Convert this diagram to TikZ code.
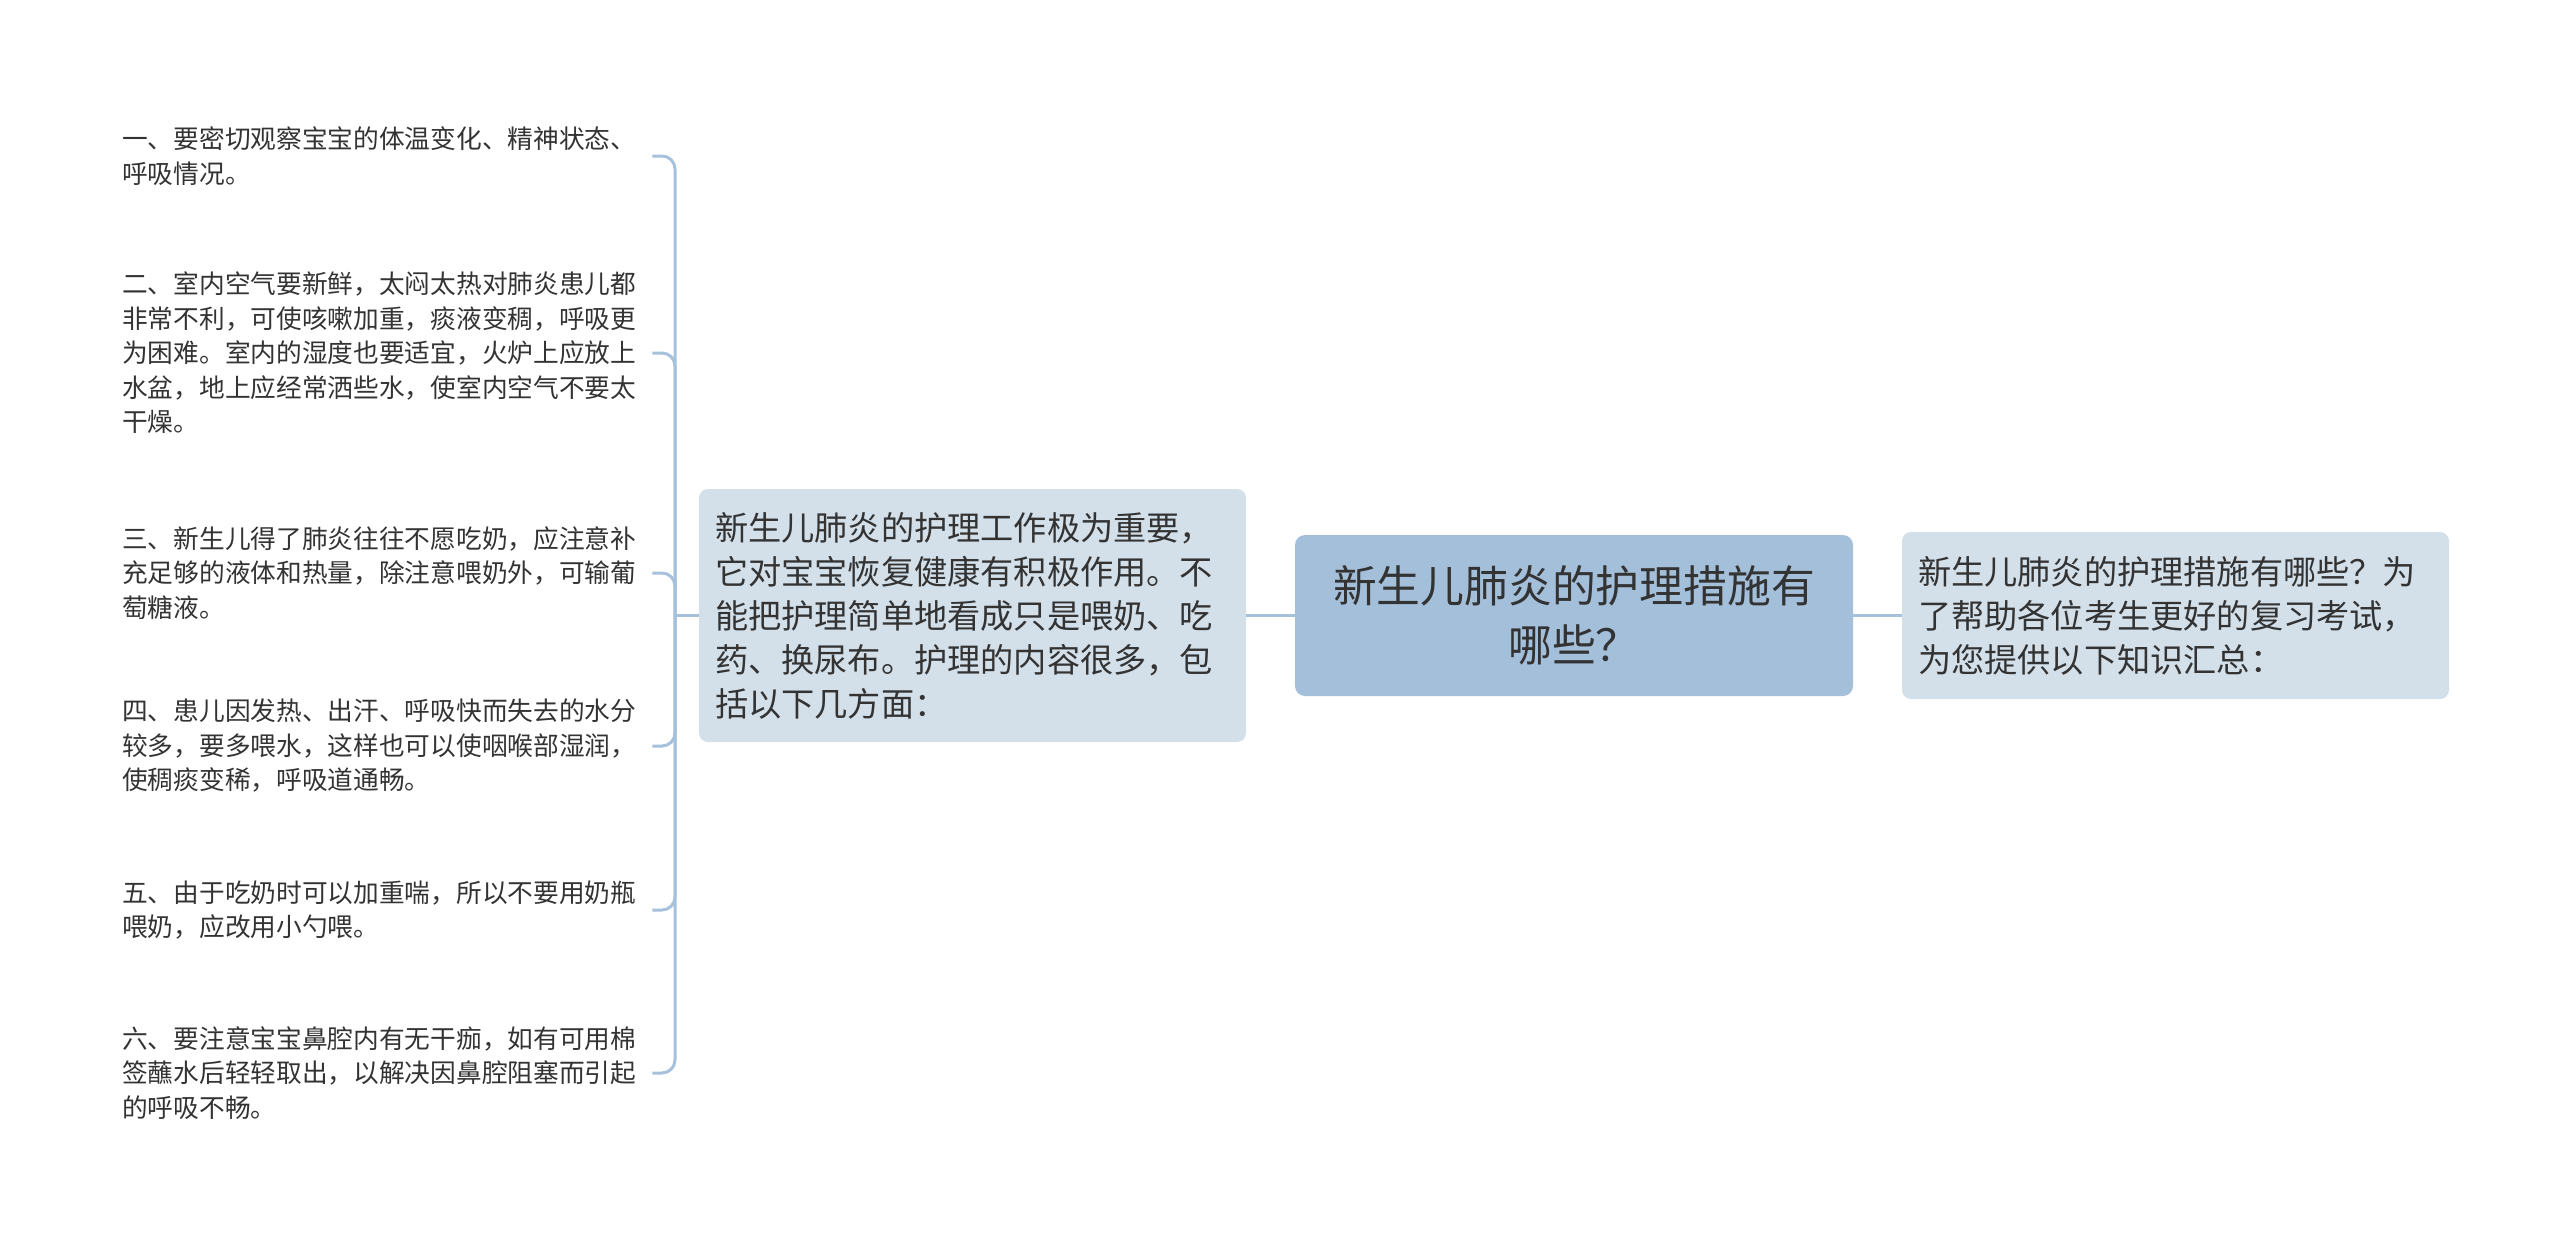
\documentclass[tikz,border=0pt]{standalone}
\usepackage{fontspec}
\setmainfont{Noto Sans CJK SC}
\definecolor{centerfill}{HTML}{A3BFDA}
\definecolor{boxfill}{HTML}{D3E0EA}
\definecolor{linkcol}{HTML}{A5C1DB}
\definecolor{txt}{HTML}{333333}
\tikzset{
  link/.style={draw=linkcol, line width=3pt},
  bracketlink/.style={link, rounded corners=13pt},
  leaf/.style={anchor=west, align=left, text width=520pt, inner sep=0pt, text=txt,
    font=\fontsize{25.7}{34.5}\selectfont},
  sidebox/.style={rectangle, rounded corners=9pt, fill=boxfill, align=left,
    inner xsep=16pt, inner ysep=0pt, text width=515pt, minimum width=547pt, text=txt,
    font=\fontsize{33.2}{44}\selectfont},
  centerbox/.style={rectangle, rounded corners=10pt, fill=centerfill, align=center,
    minimum width=558pt, minimum height=161pt, inner sep=0pt, text=txt,
    font=\fontsize{43.8}{58.8}\selectfont},
}
\begin{document}
\begin{tikzpicture}[x=1pt, y=-1pt]
\useasboundingbox (0,0) rectangle (2560,1247);

\node[centerbox] (c) at (1574,615.5) {新生儿肺炎的护理措施有\\哪些？};
\node[sidebox, minimum height=167pt] (r) at (2175.5,615.5) {新生儿肺炎的护理措施有哪些？为\\了帮助各位考生更好的复习考试，\\为您提供以下知识汇总：};
\node[sidebox, minimum height=253pt] (l) at (972.5,615.5) {新生儿肺炎的护理工作极为重要，\\它对宝宝恢复健康有积极作用。不\\能把护理简单地看成只是喂奶、吃\\药、换尿布。护理的内容很多，包\\括以下几方面：};

\node[leaf] (a1) at (122,156) {一、要密切观察宝宝的体温变化、精神状态、\\呼吸情况。};
\node[leaf] (a2) at (122,353) {二、室内空气要新鲜，太闷太热对肺炎患儿都\\非常不利，可使咳嗽加重，痰液变稠，呼吸更\\为困难。室内的湿度也要适宜，火炉上应放上\\水盆，地上应经常洒些水，使室内空气不要太\\干燥。};
\node[leaf] (a3) at (122,573) {三、新生儿得了肺炎往往不愿吃奶，应注意补\\充足够的液体和热量，除注意喂奶外，可输葡\\萄糖液。};
\node[leaf] (a4) at (122,746) {四、患儿因发热、出汗、呼吸快而失去的水分\\较多，要多喂水，这样也可以使咽喉部湿润，\\使稠痰变稀，呼吸道通畅。};
\node[leaf] (a5) at (122,910) {五、由于吃奶时可以加重喘，所以不要用奶瓶\\喂奶，应改用小勺喂。};
\node[leaf] (a6) at (122,1073) {六、要注意宝宝鼻腔内有无干痂，如有可用棉\\签蘸水后轻轻取出，以解决因鼻腔阻塞而引起\\的呼吸不畅。};

\draw[link] (c.east) -- (r.west);
\draw[link] (l.east) -- (c.west);
\coordinate (j) at (675,615.5);
\draw[link] (l.west) -- (j);
\foreach \k in {1,...,6}{
  \draw[bracketlink] (j) |- ([xshift=10pt]a\k.east);
}
\end{tikzpicture}
\end{document}
